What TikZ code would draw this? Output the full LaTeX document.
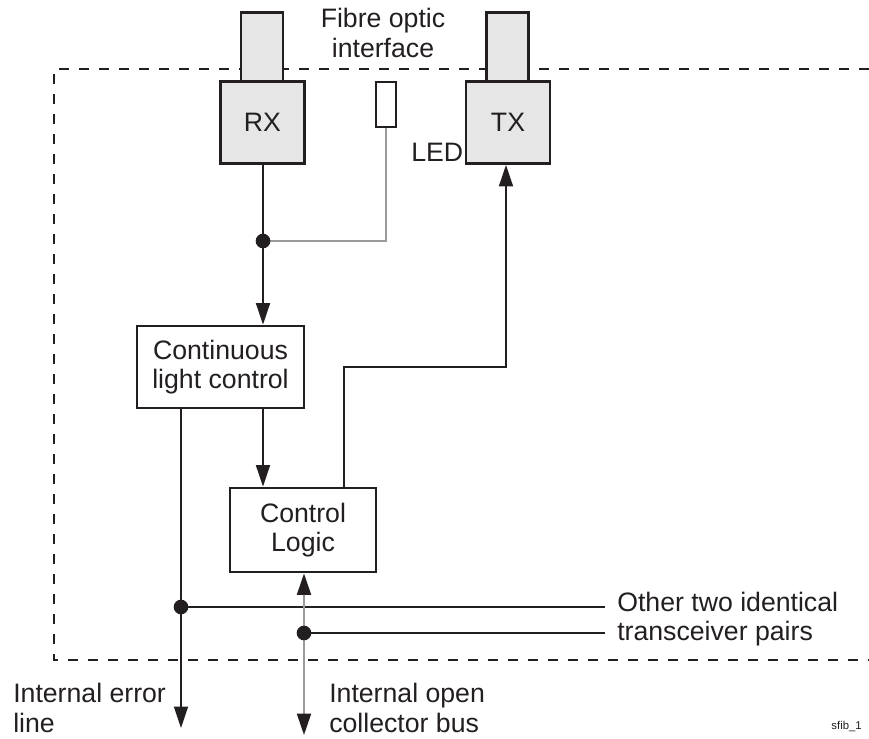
\documentclass[tikz,border=0pt]{standalone}
\usepackage{fontspec}
\setmainfont{Liberation Sans}
\usetikzlibrary{arrows.meta}
\definecolor{boxgray}{HTML}{E6E6E6}
\definecolor{inkc}{HTML}{231F20}
\definecolor{linegray}{HTML}{9A9A9A}
\begin{document}
\begin{tikzpicture}[x=0.75pt,y=-0.75pt,
  font=\fontsize{20}{22}\selectfont,
  every node/.style={text=inkc},
  unit/.style={draw=inkc,line width=2.2pt,fill=boxgray,inner sep=0pt,
    minimum width=63pt,minimum height=61.5pt},
  plug/.style={draw=inkc,line width=2.2pt,fill=boxgray,inner sep=0pt,
    minimum width=31.5pt,minimum height=51.75pt},
  block/.style={draw=inkc,line width=2.2pt,fill=white,inner sep=0pt,align=center},
  wire/.style={draw=inkc,line width=1.1pt},
  greywire/.style={draw=linegray,line width=1.3pt},
  head/.tip={Triangle[length=16pt,width=10.5pt,color=inkc]},
  tip/.style={-head},
  junction/.style={circle,fill=inkc,inner sep=0pt,minimum size=11pt},
  lbl/.style={align=left,inner sep=0pt}]
\useasboundingbox (0,0) rectangle (869,739);

% module outline (right side open)
\draw[inkc,line width=1.6pt,dash pattern=on 7.5pt off 7.5pt]
  (869,69) -- (54,69) -- (54,660) -- (869,660);

% fibre optic connectors and transceivers
\node[plug] (rxplug) at (262,47) {};
\node[plug] (txplug) at (507.5,47) {};
\node[unit] (rx) at (262.5,122.5) {RX};
\node[unit] (tx) at (508,122.5) {TX};
\node[draw=inkc,line width=1.6pt,fill=white,inner sep=0pt,
  minimum width=15pt,minimum height=33.75pt] (led) at (386,104.5) {};

% functional blocks
\node[block,minimum width=125.25pt,minimum height=61.5pt] (clc) at (220.5,367)
  {Continuous\\light control};
\node[block,minimum width=109.5pt,minimum height=63pt] (cl) at (303,530)
  {Control\\Logic};

% routing points
\coordinate (j1) at (263,241);
\coordinate (b1) at (344,367);
\coordinate (b2) at (506,367);
\coordinate (e) at (181,728);
\coordinate (j2) at (181,607);
\coordinate (o1) at (605,607);
\coordinate (bus) at (304,735);
\coordinate (j3) at (304,633);
\coordinate (o2) at (605,633);

% receive path
\draw[wire] (rx.south -| j1) -- (j1);
\draw[wire,tip] (j1) -- (j1 |- clc.north);
\draw[greywire] (led.south) |- (j1);
\draw[wire,tip] (clc.south -| j1) -- (cl.north -| j1);

% transmit path
\draw[wire,tip] (cl.north -| b1) |- (b2) -- (b2 |- tx.south);

% error line and open collector bus
\draw[wire,tip] (clc.south -| e) -- (e);
\draw[wire] (j2) -- (o1);
\draw[greywire,head-head] (cl.south -| bus) -- (bus);
\draw[wire] (j3) -- (o2);
\node[junction] at (j1) {};
\node[junction] at (j2) {};
\node[junction] at (j3) {};

% labels
\node[align=center,inner sep=0pt] (fibre) at (383,33) {Fibre optic\\interface};
\node[lbl,anchor=west] (ledlbl) at (411,152) {LED};
\node[lbl,anchor=west] (other) at (617,619) {Other two identical\\transceiver pairs};
\node[lbl,anchor=west] (err) at (13,708) {Internal error\\line};
\node[lbl,anchor=west] (oc) at (329,708) {Internal open\\collector bus};
\node[inner sep=0pt,anchor=east,font=\fontsize{8.5}{10}\selectfont] (tag) at (862,727) {sfib\_1};
\end{tikzpicture}
\end{document}
